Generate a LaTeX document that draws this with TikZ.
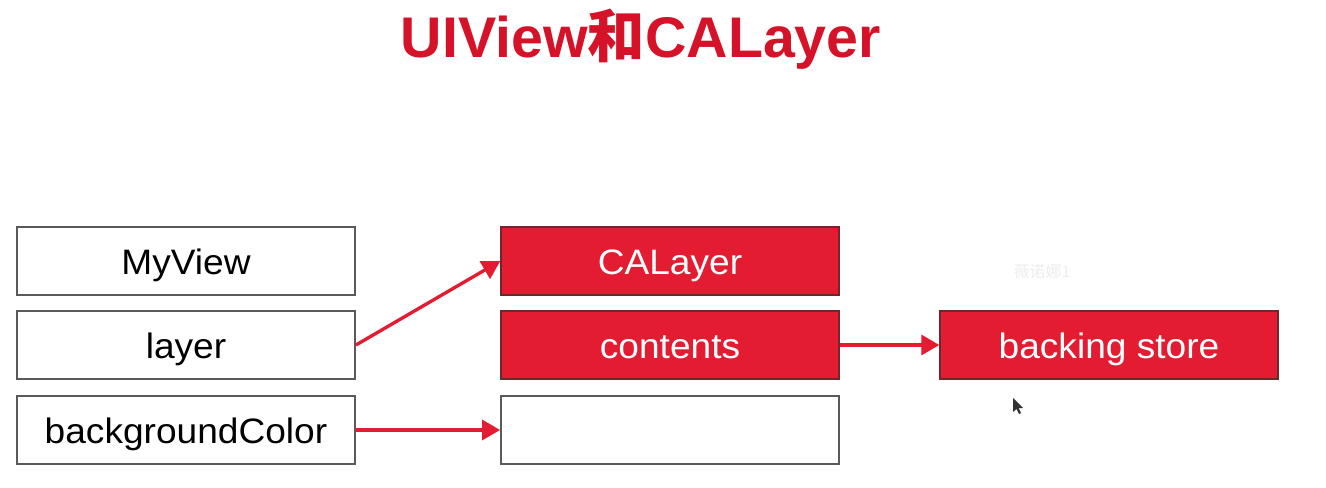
\documentclass[tikz,border=0pt]{standalone}
\usepackage{fontspec}
\setmainfont{Liberation Sans}[FakeStretch=1.05]
\newfontfamily\titlefont{Liberation Sans}
\newfontfamily\cjk{Noto Sans CJK SC}
\newfontfamily\wmfont{Noto Sans CJK SC}
\usetikzlibrary{arrows.meta}
\definecolor{slidered}{RGB}{228,28,50}
\definecolor{titlered}{RGB}{214,18,40}
\definecolor{boxgray}{RGB}{90,90,90}
\definecolor{redborder}{RGB}{110,40,45}
\tikzset{
  cell/.style={rectangle, inner sep=0pt, minimum width=253.5pt, minimum height=51pt,
    text height=20pt, text depth=0.5pt, font=\fontsize{26.5}{31}\selectfont},
  whitecell/.style={cell, draw=boxgray, line width=1.4pt, fill=white, text=black},
  redcell/.style={cell, draw=redborder, line width=1pt, fill=slidered, text=white},
  link/.style={draw=slidered, line width=2.5pt, -{Triangle[length=13.5pt,width=15pt]}},
}
\begin{document}
\begin{tikzpicture}[x=0.75pt,y=-0.75pt]
\useasboundingbox (0,0) rectangle (1326,488);
\fill[white] (0,0) rectangle (1326,488);
\node[anchor=base, text=titlered, font=\titlefont\fontsize{43}{48}\selectfont\bfseries] (title) at (641,58)
  {UIView{\cjk\bfseries 和}CALayer};
\node[whitecell] (myview) at (186,261) {MyView};
\node[whitecell] (layer) at (186,345) {layer};
\node[whitecell] (bgcolor) at (186,430) {backgroundColor};
\node[redcell] (calayer) at (670,261) {CALayer};
\node[redcell] (contents) at (670,345) {contents};
\node[whitecell] (empty) at (670,430) {};
\node[redcell] (backing) at (1109,345) {backing store};
\node[text=black!7, font=\wmfont\fontsize{12}{14}\selectfont] (wm) at (1042,271) {薇诺娜1};
\draw[link] (layer.east) -- (calayer.west);
\draw[link] (contents.east) -- (backing.west);
\draw[link] (bgcolor.east) -- (empty.west);
\fill[black!80] (1013,398) -- (1013,412) -- (1016.5,409) -- (1019,414) -- (1021,413) -- (1018.5,408) -- (1023,408) -- cycle;
\end{tikzpicture}
\end{document}
